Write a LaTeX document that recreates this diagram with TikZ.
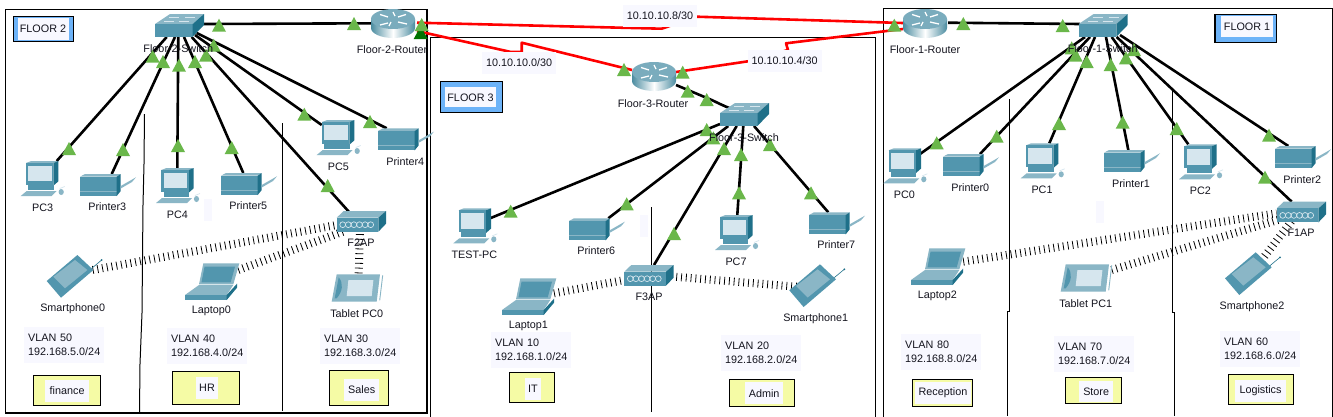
\documentclass[tikz,border=0pt]{standalone}
\usepackage{fontspec}
\setmainfont{Liberation Sans}
\definecolor{pale}{HTML}{F8F8FF}
\definecolor{tagy}{HTML}{F5FBA5}
\definecolor{tagb}{HTML}{6DB3F8}
\definecolor{trig}{HTML}{6AB74A}
\definecolor{body}{HTML}{5296AE}
\definecolor{dk}{HTML}{1F7089}
\definecolor{lt}{HTML}{8AB6C6}
\definecolor{scr}{HTML}{D6E6EE}
\definecolor{ink}{HTML}{14141E}
\newcommand{\tagbox}[7]{%
  \draw[line width=1.1pt,fill=#7] (#2) rectangle (#3);
  \fill[pale] (#4) rectangle node[midway,lbl] (#1) {#6} (#5);}
\tikzset{
  lbl/.style={inner sep=0pt,text=ink,font=\fontsize{10.8}{14}\selectfont},
  devnode/.style={inner sep=0pt,outer sep=0pt,anchor=north west},
  vlanbox/.style={anchor=north west,fill=pale,inner xsep=4pt,inner ysep=0pt,text width=72pt,minimum height=36pt,align=left,text=ink,font=\fontsize{10.8}{14}\selectfont},
  netbox/.style={fill=pale,inner sep=0pt,minimum width=74pt,minimum height=22pt,text=ink,font=\fontsize{10.8}{14}\selectfont},
  wire/.style={line width=2.6pt,black},
  redwire/.style={line width=2.6pt,red,line join=round},
  radio/.style={line width=8pt,black,dash pattern=on .8pt off 4pt},
  frameline/.style={line width=1.2pt,black},
  divider/.style={line width=1pt,black},
  pcicon/.pic={
    \fill[lt] (5.3,2)--(10.5,0)--(37.7,0)--(32.7,2)--cycle;
    \fill[dk] (32.7,2)--(37.7,0)--(37.7,20.3)--(32.7,24.7)--cycle;
    \fill[body] (5.3,2) rectangle (32.7,24);
    \fill[scr] (7.7,4.7) rectangle (31,20.3);
    \fill[body] (7.7,24) rectangle (33,29);
    \fill[lt] (0,35)--(6,30)--(36,30)--(31,35)--cycle;
    \fill[lt] (40.5,31) ellipse [x radius=2.6pt,y radius=3pt];
    \draw[scr,line width=.7pt] (39,27.5)--(44,25.5);
  },
  printericon/.pic={
    \fill[lt] (0,2.7)--(5,0)--(40.7,0)--(36.7,2.7)--cycle;
    \fill[body] (0,2.7) rectangle (36.7,22);
    \draw[lt,line width=.7pt] (0,17)--(36.7,17);
    \fill[dk] (36.7,2.7)--(40.7,0)--(40.7,17)--(36.7,22)--cycle;
    \fill[lt] (40.7,12)--(56,3.3)--(52,8)--(40.7,14.5)--cycle;
  },
  apicon/.pic={
    \fill[lt] (0,6.7)--(7,0)--(49.3,0)--(41.7,6.7)--cycle;
    \fill[body] (0,6.7) rectangle (41.7,20.7);
    \fill[dk] (41.7,6.7)--(49.3,0)--(49.3,12.7)--(41.7,20.7)--cycle;
    \foreach \cx in {6,11.6,17.2,22.8,28.4,34}
      \draw[scr,line width=.7pt] (\cx,13.7) circle (2.9pt);
  },
  routericon/.pic={
    \shade[left color=dk!80,right color=dk!80,middle color=white]
      (0,10)--(0,19) .. controls (0,24.5) and (10,29) .. (22,29)
      .. controls (34,29) and (44,24.5) .. (44,19)--(44,10)--cycle;
    \fill[lt!85!dk] (22,10) ellipse [x radius=22pt,y radius=10pt];
    \draw[white,line width=1.3pt] (9,5.5)--(17,8) (17,14)--(9,16) (27,8)--(35,5.5) (27,13)--(36,15);
    \draw[white,line width=1.3pt] (22,3)--(24,7) (20,13)--(18,17);
  },
  switchicon/.pic={
    \fill[lt] (0,10)--(15,0)--(49,0)--(37.7,10)--cycle;
    \fill[body] (0,10) rectangle (37.7,22.7);
    \fill[dk] (37.7,10)--(49,0)--(49,11)--(37.7,22.7)--cycle;
    \draw[scr,line width=.7pt] (14,3)--(24,3) (30,3)--(40,3) (9,7)--(19,7) (24,7)--(34,7);
  },
  phoneicon/.pic={
    \draw[dk,line width=.6pt] (45,13.3)--(55,5);
    \fill[dk] (55,5) circle (1pt);
    \fill[body] (30.7,0)--(46.7,15)--(14.3,42.7)--(0,26)--cycle;
    \fill[lt] (28.3,5)--(40.7,15)--(18.3,33.3)--(6.7,21.7)--cycle;
  },
  laptopicon/.pic={
    \fill[lt] (18.3,.7)--(54.3,.7)--(48.3,21.7)--(14,21.7)--cycle;
    \fill[body] (19.5,4)--(50,4)--(45.7,19.7)--(16.5,19.7)--cycle;
    \fill[lt] (14,22.3)--(48.3,22.3)--(41.7,32.3)--(0,32.3)--cycle;
    \fill[body] (0,32.3)--(41.7,32.3)--(41.7,37.3)--(0,37.3)--cycle;
    \fill[dk] (41.7,32.3)--(52,21)--(52,25)--(41.7,37.3)--cycle;
  },
  tableticon/.pic={
    \fill[lt] (5,1)--(48.3,1)--(45,28.3)--(0,28.3)--cycle;
    \fill[scr] (16.7,6.7)--(41.7,6.7)--(40,22.7)--(15,22.7)--cycle;
    \fill[body] (7,4) .. controls (12,10) and (11,18) .. (5,25)--(3,25)--cycle;
    \draw[lt,line width=.9pt] (51,2)--(48,27);
  }
}
\begin{document}
\begin{tikzpicture}[x=1pt,y=-1pt]
\useasboundingbox (0,0) rectangle (1333,416);
\fill[white] (0,0) rectangle (1333,416);
% frames
\draw[frameline] (5.3,9.3) rectangle (427,413);
\draw[frameline] (430.7,418)--(430.7,37.3)--(875.7,37.3)--(875.7,418);
\draw[frameline] (883.5,418)--(883.5,8.5)--(1332.7,8.5)--(1332.7,418);
% dividers
\draw[divider] (144.5,114)--(144,164)--(143,205)--(142,313)--(140,364)--(139.5,413);
\draw[divider] (282.5,123)--(282.5,411);
\draw[divider] (651.7,207)--(651.7,412);
\draw[divider] (1009.3,99)--(1009.3,311)--(1007.7,311)--(1007.7,416);
\draw[divider] (1172.7,90)--(1172.7,312)--(1174,312)--(1174,416);
% pale patches
\fill[pale] (204,199) rectangle (212,221);
\fill[pale] (640,215) rectangle (648,237);
\fill[pale] (1096,201) rectangle (1104,223);
% device nodes
\foreach \n/\x/\y/\w/\h in {
  sw2/155/14/49/23, r2/371/9/44/29, pc3/20.7/161/44/36, prt3/80/174/56/22, pc4/156/168/44/36,
  prt5/221/173/56/22, pc5/316.7/120/44/36, prt4/378/128.3/56/22, f2ap/336.7/211/49.3/20.7,
  sp0/46.7/255/56/42.7, lap0/185/262.7/54.3/37.3, tab0/331.7/273.3/51.6/30,
  r3/632/62/44/29, sw3/720/103/49/23, testpc/453.3/208.3/44/36, prt6/569/218.3/56/22,
  pc7/715/215/44/36, prt7/809/212.3/56/22, f3ap/624.3/265/49.3/20.7, lap1/502/277.7/54.3/37.3,
  sp1/789.3/264.3/56/42.7,
  r1/903/9/44/29, sw1/1078.7/14/49/23, pc0/883.3/148.3/44/36, prt0/943/154/56/22,
  pc1/1020.7/143.3/44/36, prt1/1104/150/56/22, pc2/1179/144.3/44/36, prt2/1275/146/56/22,
  f1ap/1276.7/201.7/49.3/20.7, lap2/911/247.7/54.3/37.3, tab1/1060.7/263.3/51.6/30,
  sp2/1225/252.3/56/42.7}
  \node[devnode,minimum width=\w pt,minimum height=\h pt] (\n) at (\x,\y) {};
% wired links
\foreach \a/\ax/\ay/\b/\bx/\by in {
  sw2/11.7/23/pc3/36/0, sw2/20/23/prt3/31.7/0, sw2/23.3/23/pc4/21.3/0, sw2/29/23/prt5/22.3/0,
  sw2/36.7/23/f2ap/13.3/2, sw2/40/21/pc5/5/5, sw2/41.7/19/prt4/8.7/0, sw2/49/10/r2/0/14.3,
  sw3/0/21/testpc/36.7/10, sw3/8.3/23/prt6/39.3/0, sw3/16.7/23/f3ap/29.7/0,
  sw3/23.3/23/pc7/22.3/0, sw3/34/23/prt7/19.3/0,
  r1/45/13.7/sw1/1.3/10, sw1/6.3/23/pc0/36.7/5.7, sw1/11.3/23/prt0/37/0, sw1/16.3/23/pc1/28.6/0,
  sw1/27.3/23/prt1/24.3/0, sw1/33/23/pc2/9.3/0, sw1/38/23/f1ap/15/0, sw1/41.3/21/prt2/13.3/0}
  \draw[wire] ([shift={(\ax,\ay)}]\a.north west) -- ([shift={(\bx,\by)}]\b.north west);
\draw[wire] ([shift={(44,23)}]r3.north west) -- (711.7,100) .. controls (718,103) and (724,106) .. ([shift={(10,5.3)}]sw3.north west);
% wireless links
\foreach \a/\ax/\ay/\b/\bx/\by in {
  sp0/46/15/f2ap/0/14, lap0/53.3/7.3/f2ap/6.3/20.7, tab0/27/0/f2ap/23.3/20.7,
  lap1/52/15.6/f3ap/0/15, sp1/7.4/22.4/f3ap/49.7/11.7,
  lap2/52.3/14/f1ap/0/11.6, tab1/51/6.7/f1ap/1.3/18.3, sp2/36.7/7.7/f1ap/16/18}
  \draw[radio] ([shift={(\ax,\ay)}]\a.north west) -- ([shift={(\bx,\by)}]\b.north west);
% red links
\draw[redwire] ([shift={(46,13.7)}]r2.north west) -- (661.7,28.7) -- (696.7,16.7) -- ([shift={(0,14)}]r1.north west);
\draw[redwire] ([shift={(46,22)}]r2.north west) -- (511,52) -- (521.7,52) -- (521.7,42.7) -- ([shift={(0,8)}]r3.north west);
\draw[redwire] ([shift={(44,10)}]r3.north west) -- (750,61) -- (788,50) -- (786,43.3) -- ([shift={(0,20)}]r1.north west);
% icons
\foreach \n/\k in {pc3/pcicon,pc4/pcicon,pc5/pcicon,testpc/pcicon,pc7/pcicon,pc0/pcicon,pc1/pcicon,pc2/pcicon,
  prt3/printericon,prt5/printericon,prt4/printericon,prt6/printericon,prt7/printericon,prt0/printericon,prt1/printericon,prt2/printericon,
  f2ap/apicon,f3ap/apicon,f1ap/apicon,r2/routericon,r3/routericon,r1/routericon,sw2/switchicon,sw3/switchicon,sw1/switchicon,
  sp0/phoneicon,sp1/phoneicon,sp2/phoneicon,lap0/laptopicon,lap1/laptopicon,lap2/laptopicon,tab0/tableticon,tab1/tableticon}
  \pic at (\n.north west) {\k};
% link labels
\node[netbox] (net8) at (660,15.8) {10.10.10.8/30};
\node[netbox] (net0) at (519.2,62.8) {10.10.10.0/30};
\node[netbox] (net4) at (784.7,60.8) {10.10.10.4/30};
% floor boxes
\tagbox{fl2}{13.3,16.7}{73.3,41.7}{17.5,18}{68.5,40}{FLOOR 2}{tagb}
\tagbox{fl3}{440.3,81.7}{502.3,112.7}{445,87.3}{496,107.3}{FLOOR 3}{tagb}
\tagbox{fl1}{1215,14.3}{1276.7,42.7}{1220.7,16}{1273.3,37.3}{FLOOR 1}{tagb}
% department boxes
\tagbox{dfin}{33.3,375.3}{100.7,405.7}{45,380}{89.3,401.7}{finance}{tagy}
\tagbox{dhr}{172.3,371.3}{239.7,404.3}{196,377}{218,399}{HR}{tagy}
\tagbox{dsal}{329.3,370.3}{388.7,405.7}{344,379}{379.3,401}{Sales}{tagy}
\tagbox{dit}{509.3,372.3}{554.7,402.7}{525,378.3}{541,400}{IT}{tagy}
\tagbox{dadm}{729.3,379.3}{794.7,406.7}{745,382.3}{783.3,404}{Admin}{tagy}
\tagbox{drec}{912.3,379.3}{972.7,406.7}{915,381.7}{971,404.3}{Reception}{tagy}
\tagbox{dsto}{1065.3,377.3}{1121.7,403.7}{1079,381}{1113.3,402.3}{Store}{tagy}
\tagbox{dlog}{1228.3,374.3}{1293.7,404.7}{1235,380.3}{1286,401.7}{Logistics}{tagy}
% vlan labels
\node[vlanbox] (v50) at (24,327) {VLAN 50\\192.168.5.0/24};
\node[vlanbox] (v40) at (167,328) {VLAN 40\\192.168.4.0/24};
\node[vlanbox] (v30) at (320,328) {VLAN 30\\192.168.3.0/24};
\node[vlanbox] (v10) at (491,332) {VLAN 10\\192.168.1.0/24};
\node[vlanbox] (v20) at (721,335) {VLAN 20\\192.168.2.0/24};
\node[vlanbox] (v80) at (901,334) {VLAN 80\\192.168.8.0/24};
\node[vlanbox] (v70) at (1054,336) {VLAN 70\\192.168.7.0/24};
\node[vlanbox] (v60) at (1220,331) {VLAN 60\\192.168.6.0/24};
% link lights
\fill[green!45!black,shift={(420.7,33)}] (-7,6)--(7,6)--(0,-7)--cycle;
\foreach \x/\y in {
  152.7/56.7,163/62,179/65.7,195/62,206/55.7,213.7/45.7,219/25.7,354/24,421.7/25,
  69/149,123/150,178/146,231.7/148,304.3/114.7,370/122,327.7/186,
  624/70,682.7/72.7,687.7/91.7,706.7/100,706.7/130,713.3/138.3,724/149,741/155,770/145,
  510.7/211.7,626.7/204.3,739/193.3,811/193.3,674/234,
  894.3/25.7,963.3/24,1062.7/26,1071.7/48.3,1075.7/55.7,1086.7/62,1110.7/65,1126/58.3,1134/50,
  936.7/143.3,996.7/136.7,1059/124,1122.7/122.7,1176.7/129,1269/135.7,1265/177.7}
  \fill[trig,shift={(\x,\y)}] (-7,6)--(7,6)--(0,-7)--cycle;
% device labels
\foreach \n/\x/\y/\t in {
  sw2/178.3/48.3/Floor-2-Switch, r2/392/50/Floor-2-Router, pc3/42.7/207.3/PC3, prt3/107.3/206.7/Printer3,
  pc4/177.3/215/PC4, prt5/248.3/206/Printer5, pc5/338.3/166.7/PC5, prt4/405.3/161.3/Printer4,
  f2ap/361/242.7/F2AP, sp0/72.7/309/Smartphone0, lap0/211.3/311/Laptop0, tab0/356.7/314/Tablet PC0,
  r3/653/103.3/Floor-3-Router, sw3/744/137.3/Floor-3-Switch, testpc/474.3/255/TEST-PC, prt6/596.3/251/Printer6,
  pc7/736/262/PC7, prt7/836.3/245/Printer7, f3ap/649/296.7/F3AP, lap1/528.3/326/Laptop1, sp1/815.7/318.3/Smartphone1,
  r1/925/50/Floor-1-Router, sw1/1102.7/48.3/Floor-1-Switch, pc0/904.3/195/PC0, prt0/970.3/187.3/Printer0,
  pc1/1042/190/PC1, prt1/1131/183.3/Printer1, pc2/1200.3/191/PC2, prt2/1302.3/179.3/Printer2,
  f1ap/1301/232.7/F1AP, lap2/937.3/296/Laptop2, tab1/1085.7/304/Tablet PC1, sp2/1252/306.3/Smartphone2}
  \node[lbl] (t\n) at (\x,\y) {\t};
\end{tikzpicture}
\end{document}
